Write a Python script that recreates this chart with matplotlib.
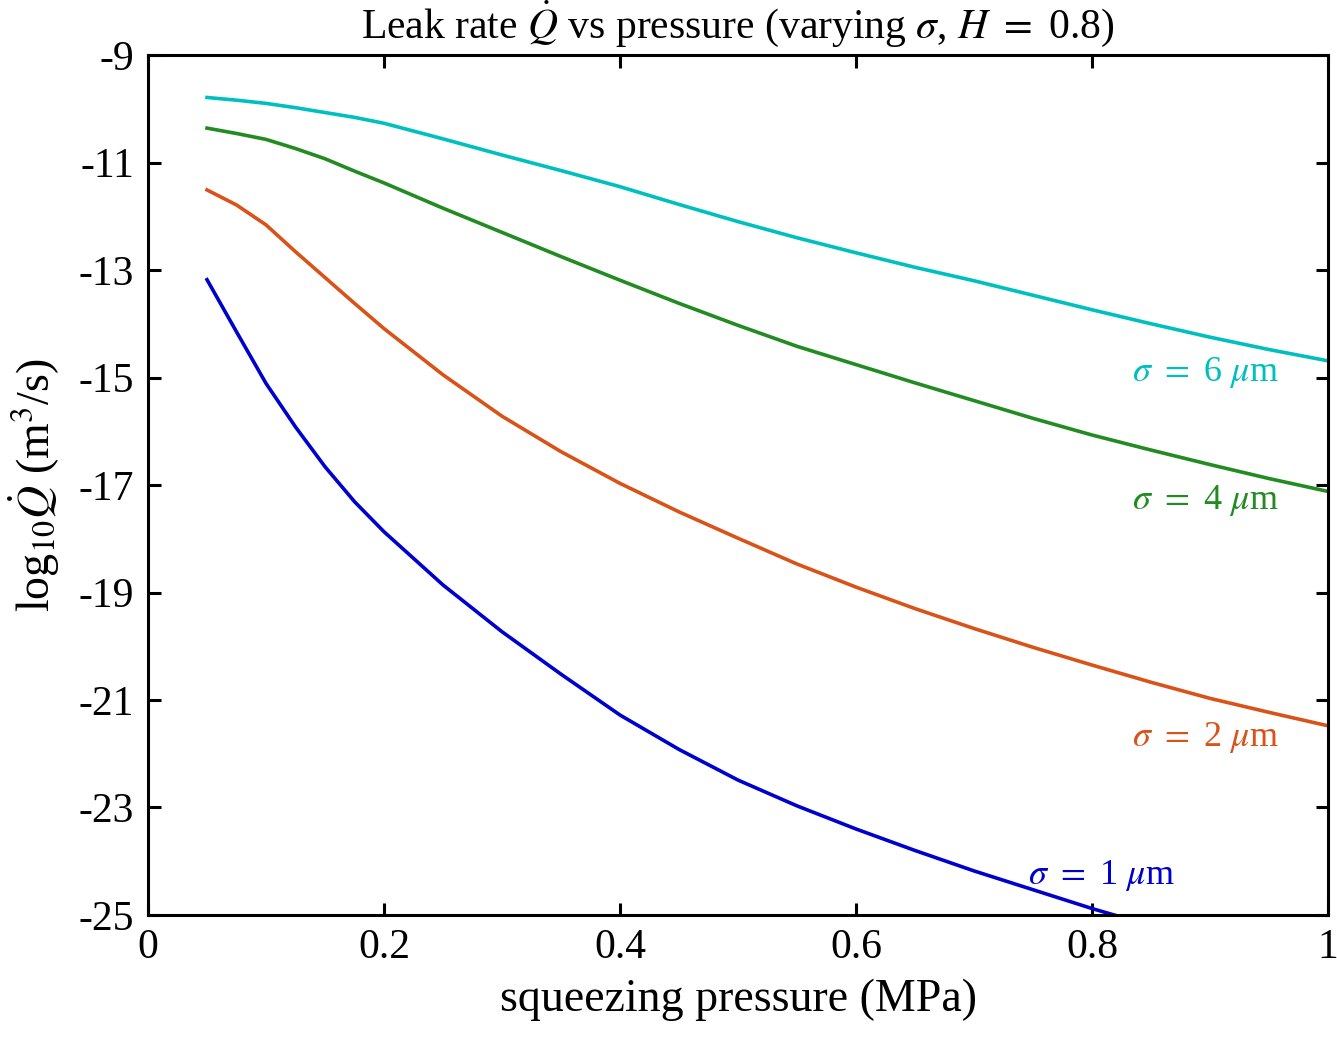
import numpy as np
import matplotlib
matplotlib.use("Agg")
from matplotlib import pyplot as plt

plt.rcParams['font.family'] = ['Liberation Serif', 'DejaVu Serif']
plt.rcParams['mathtext.fontset'] = 'stix'
plt.rcParams['axes.unicode_minus'] = False

# squeezing pressure (MPa)
pressure = [0.05, 0.075, 0.1, 0.125, 0.15, 0.175, 0.2, 0.25, 0.3, 0.35, 0.4, 0.45, 0.5,
            0.55, 0.6, 0.65, 0.7, 0.75, 0.8, 0.85, 0.9, 0.95, 1.0]

# log10 leak rate for each sigma
q_sigma6 = [-9.79, -9.84, -9.90, -9.98, -10.07, -10.16, -10.27, -10.56, -10.86, -11.15,
            -11.45, -11.78, -12.10, -12.40, -12.68, -12.95, -13.20, -13.47, -13.74, -14.00,
            -14.25, -14.48, -14.69]
q_sigma4 = [-10.36, -10.46, -10.57, -10.74, -10.93, -11.16, -11.38, -11.85, -12.30, -12.75,
            -13.19, -13.62, -14.03, -14.42, -14.76, -15.10, -15.43, -15.76, -16.07, -16.35,
            -16.62, -16.88, -17.12]
q_sigma2 = [-11.51, -11.79, -12.16, -12.66, -13.14, -13.62, -14.09, -14.95, -15.72, -16.38,
            -16.97, -17.50, -17.99, -18.47, -18.90, -19.30, -19.67, -20.02, -20.35, -20.67,
            -20.97, -21.23, -21.48]
q_sigma1 = [-13.18, -14.15, -15.11, -15.92, -16.66, -17.31, -17.87, -18.86, -19.73, -20.52,
            -21.28, -21.92, -22.49, -22.97, -23.40, -23.80, -24.18, -24.53, -24.88, -25.20]

series = [
    (q_sigma6, '#00BFBF', r'$\sigma$ $=$ 6 $\mu$m', (0.958, -14.9)),
    (q_sigma4, '#228B22', r'$\sigma$ $=$ 4 $\mu$m', (0.958, -17.28)),
    (q_sigma2, '#D95319', r'$\sigma$ $=$ 2 $\mu$m', (0.958, -21.69)),
    (q_sigma1, '#0000CD', r'$\sigma$ $=$ 1 $\mu$m', (0.870, -24.26)),
]

fig = plt.figure(figsize=(13.37, 10.4), dpi=100)
ax = fig.add_axes([0.1107, 0.1202, 0.8826, 0.8269])

for q, color, label, pos in series:
    ax.plot(pressure[:len(q)], q, color=color, lw=2.6)
    ax.text(pos[0], pos[1], label, color=color, fontsize=26, ha='right', va='center')

ax.set_xlim(0, 1)
ax.set_ylim(-25, -9)
ax.set_xticks([0, 0.2, 0.4, 0.6, 0.8, 1])
ax.set_xticklabels(['0', '0.2', '0.4', '0.6', '0.8', '1'])
yt = list(range(-9, -26, -2))
ax.set_yticks(yt)
ax.set_yticklabels([str(v) for v in yt])
ax.tick_params(direction='in', length=9, width=2.2, labelsize=30, top=True, right=True, pad=10)
for s in ax.spines.values():
    s.set_linewidth(2.2)

ax.set_xlabel('squeezing pressure (MPa)', fontsize=33, labelpad=8)
ax.set_ylabel(r'log$_{10}\dot{Q}$ (m$^3$/s)', fontsize=33, labelpad=12)
ax.set_title(r'Leak rate $\dot{Q}$ vs pressure (varying $\sigma$, $H$ $=$ 0.8)', fontsize=30, pad=12)

fig.savefig('out.png', dpi=100)
